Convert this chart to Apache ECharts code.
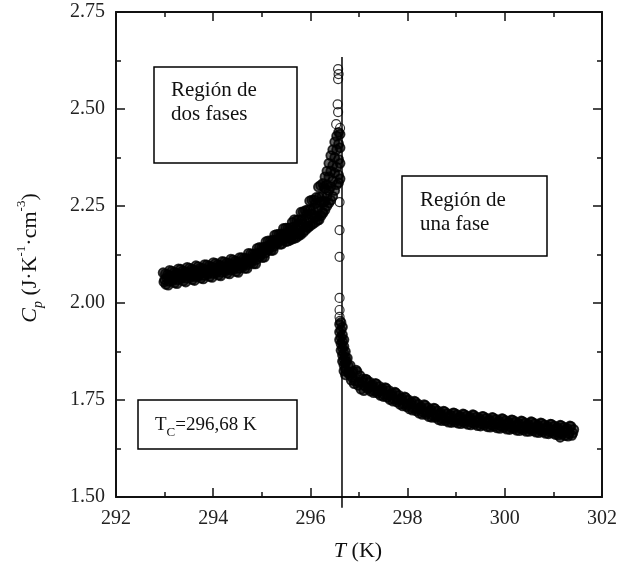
<!DOCTYPE html>
<html>
<head>
<meta charset="utf-8">
<script src="https://cdn.jsdelivr.net/npm/echarts@6/dist/echarts.min.js"></script>
<style>
html,body{margin:0;padding:0;background:#fff;}
#chart{width:627px;height:566px;}
</style>
</head>
<body>
<div id="chart"></div>
<script>
// ---- data (T in K, Cp in J K^-1 cm^-3) ----
const xTicks = [292, 294, 296, 298, 300, 302];
const yTicks = ['1.50', '1.75', '2.00', '2.25', '2.50', '2.75'];
const tcValue = 296.65;           // position of the vertical line
const tcLineCp = [2.634, 1.472];  // extent of the vertical line

const leftBranch = [
[292.97,2.078],[293.00,2.060],[293.03,2.048],[293.06,2.073],[293.09,2.056],[293.12,2.069],
[293.15,2.082],[293.18,2.064],[293.21,2.052],[293.24,2.077],[293.27,2.060],[293.30,2.074],
[293.33,2.087],[293.36,2.068],[293.39,2.057],[293.42,2.081],[293.45,2.064],[293.48,2.078],
[293.51,2.090],[293.54,2.072],[293.57,2.060],[293.60,2.085],[293.63,2.068],[293.66,2.081],
[293.69,2.094],[293.72,2.075],[293.75,2.064],[293.78,2.089],[293.81,2.071],[293.84,2.085],
[293.87,2.098],[293.90,2.080],[293.93,2.068],[293.96,2.093],[293.99,2.076],[294.02,2.089],
[294.05,2.102],[294.08,2.084],[294.11,2.072],[294.14,2.097],[294.17,2.079],[294.20,2.093],
[294.23,2.106],[294.26,2.088],[294.29,2.077],[294.32,2.102],[294.35,2.085],[294.38,2.098],
[294.41,2.111],[294.44,2.093],[294.47,2.081],[294.50,2.106],[294.53,2.089],[294.56,2.103],
[294.59,2.117],[294.62,2.099],[294.65,2.089],[294.68,2.115],[294.71,2.099],[294.74,2.113],
[294.77,2.127],[294.80,2.110],[294.83,2.101],[294.86,2.127],[294.89,2.112],[294.92,2.128],
[294.95,2.143],[294.98,2.126],[295.01,2.117],[295.04,2.144],[295.07,2.129],[295.10,2.145],
[295.13,2.160],[295.16,2.144],[295.19,2.135],[295.22,2.162],[295.25,2.146],[295.28,2.162],
[295.31,2.177],[295.34,2.161],[295.37,2.151],[295.40,2.178],[295.43,2.163],[295.46,2.178],
[295.49,2.193],[295.52,2.177],[295.55,2.167],[295.58,2.194],[295.61,2.179],[295.64,2.195],
[295.67,2.215],[295.70,2.191],[295.73,2.178],[295.76,2.215],[295.79,2.193],[295.82,2.215],
[295.85,2.235],[295.88,2.212],[295.91,2.196],[295.94,2.240],[295.97,2.215],[296.00,2.241],
[296.03,2.265],[296.06,2.240],[296.09,2.221],[296.12,2.272],[296.15,2.243],[296.18,2.273],
[296.21,2.303],[296.24,2.275],[296.27,2.261],[296.25,2.235],[296.28,2.300],
[296.18,2.215],[296.22,2.225],[296.26,2.232],
[296.30,2.325],[296.30,2.295],[296.30,2.262],[296.30,2.240],
[296.34,2.340],[296.34,2.305],[296.34,2.275],[296.34,2.250],
[296.38,2.360],[296.38,2.325],[296.38,2.290],[296.38,2.258],
[296.42,2.380],[296.42,2.340],[296.42,2.300],[296.42,2.265],
[296.46,2.395],[296.46,2.355],[296.46,2.315],[296.46,2.275],
[296.50,2.415],[296.50,2.375],[296.50,2.335],[296.50,2.290],
[296.54,2.430],[296.54,2.395],[296.54,2.350],[296.54,2.305],
[296.58,2.440],[296.58,2.410],[296.58,2.370],[296.58,2.330],[296.58,2.310],
[296.61,2.435],[296.61,2.400],[296.61,2.360],[296.61,2.320]
];

const leftBranchB = [
[292.985,2.054],[293.015,2.075],[293.045,2.065],[293.075,2.046],[293.105,2.084],[293.135,2.060],
[293.165,2.058],[293.195,2.079],[293.225,2.069],[293.255,2.050],[293.285,2.088],[293.315,2.065],
[293.345,2.063],[293.375,2.083],[293.405,2.074],[293.435,2.054],[293.465,2.092],[293.495,2.069],
[293.525,2.066],[293.555,2.087],[293.585,2.077],[293.615,2.058],[293.645,2.096],[293.675,2.072],
[293.705,2.070],[293.735,2.090],[293.765,2.081],[293.795,2.062],[293.825,2.099],[293.855,2.076],
[293.885,2.074],[293.915,2.095],[293.945,2.085],[293.975,2.066],[294.005,2.104],[294.035,2.080],
[294.065,2.078],[294.095,2.099],[294.125,2.089],[294.155,2.070],[294.185,2.107],[294.215,2.084],
[294.245,2.082],[294.275,2.103],[294.305,2.094],[294.335,2.075],[294.365,2.113],[294.395,2.089],
[294.425,2.087],[294.455,2.108],[294.485,2.098],[294.515,2.079],[294.545,2.117],[294.575,2.095],
[294.605,2.093],[294.635,2.115],[294.665,2.107],[294.695,2.089],[294.725,2.128],[294.755,2.105],
[294.785,2.104],[294.815,2.126],[294.845,2.119],[294.875,2.101],[294.905,2.141],[294.935,2.120],
[294.965,2.120],[294.995,2.142],[295.025,2.135],[295.055,2.118],[295.085,2.158],[295.115,2.137],
[295.145,2.137],[295.175,2.160],[295.205,2.153],[295.235,2.136],[295.265,2.175],[295.295,2.154],
[295.325,2.154],[295.355,2.177],[295.385,2.169],[295.415,2.152],[295.445,2.192],[295.475,2.170],
[295.505,2.170],[295.535,2.193],[295.565,2.185],[295.595,2.168],[295.625,2.208],[295.655,2.187],
[295.685,2.182],[295.715,2.213],[295.745,2.203],[295.775,2.178],[295.805,2.234],[295.835,2.204],
[295.865,2.203],[295.895,2.238],[295.925,2.227],[295.955,2.199],[295.985,2.263],[296.015,2.228],
[296.045,2.229],[296.075,2.266],[296.105,2.256],[296.135,2.223],[296.165,2.299],[296.195,2.259],
[296.225,2.261],[296.255,2.308]
];

// lower edge of the band approaching the transition
const leftBranchC = [
[295.50,2.158],[295.55,2.160],[295.60,2.163],[295.65,2.166],[295.70,2.168],[295.75,2.172],
[295.80,2.176],[295.85,2.182],[295.90,2.188],[295.95,2.194],[296.00,2.199],[296.05,2.204],
[296.10,2.208],[296.15,2.213]
];

const peakPoints = [
[296.57,2.603],[296.58,2.590],[296.57,2.577],[296.56,2.512],[296.57,2.492],
[296.53,2.461],[296.61,2.451],
[296.60,2.260],[296.60,2.188],[296.60,2.119],[296.60,2.013],[296.60,1.982],[296.60,1.964],[296.61,1.954]
];

const rightBranch = [
[296.60,1.945],[296.60,1.925],[296.60,1.905],
[296.63,1.950],[296.63,1.930],[296.63,1.912],[296.63,1.895],[296.63,1.878],
[296.66,1.938],[296.66,1.918],[296.66,1.900],[296.66,1.884],[296.66,1.866],[296.66,1.850],
[296.69,1.905],[296.69,1.888],[296.69,1.870],[296.69,1.855],[296.69,1.840],[296.69,1.825],
[296.72,1.875],[296.72,1.860],[296.72,1.845],[296.72,1.830],[296.72,1.815],
[296.74,1.850],[296.78,1.838],[296.82,1.815],[296.86,1.808],
[296.76,1.858],[296.80,1.822],[296.84,1.801],[296.88,1.824],[296.92,1.799],[296.96,1.823],
[297.00,1.795],[297.04,1.778],[297.08,1.804],[297.12,1.786],[297.16,1.802],[297.20,1.784],
[297.24,1.773],[297.28,1.789],[297.32,1.774],[297.36,1.791],[297.40,1.773],[297.44,1.762],
[297.48,1.779],[297.52,1.764],[297.56,1.780],[297.60,1.762],[297.64,1.751],[297.68,1.767],
[297.72,1.752],[297.76,1.768],[297.80,1.750],[297.84,1.739],[297.88,1.755],[297.92,1.740],
[297.96,1.756],[298.00,1.738],[298.04,1.727],[298.08,1.744],[298.12,1.729],[298.16,1.745],
[298.20,1.727],[298.24,1.716],[298.28,1.732],[298.32,1.719],[298.36,1.736],[298.40,1.718],
[298.44,1.707],[298.48,1.725],[298.52,1.710],[298.56,1.728],[298.60,1.710],[298.64,1.699],
[298.68,1.717],[298.72,1.702],[298.76,1.720],[298.80,1.703],[298.84,1.693],[298.88,1.711],
[298.92,1.698],[298.96,1.716],[299.00,1.699],[299.04,1.690],[299.08,1.708],[299.12,1.695],
[299.16,1.713],[299.20,1.697],[299.24,1.687],[299.28,1.706],[299.32,1.692],[299.36,1.711],
[299.40,1.694],[299.44,1.684],[299.48,1.702],[299.52,1.689],[299.56,1.707],[299.60,1.691],
[299.64,1.681],[299.68,1.699],[299.72,1.686],[299.76,1.704],[299.80,1.688],[299.84,1.678],
[299.88,1.696],[299.92,1.683],[299.96,1.701],[300.00,1.685],[300.04,1.675],[300.08,1.693],
[300.12,1.680],[300.16,1.698],[300.20,1.682],[300.24,1.672],[300.28,1.690],[300.32,1.677],
[300.36,1.695],[300.40,1.679],[300.44,1.669],[300.48,1.688],[300.52,1.675],[300.56,1.693],
[300.60,1.677],[300.64,1.667],[300.68,1.685],[300.72,1.672],[300.76,1.690],[300.80,1.674],
[300.84,1.664],[300.88,1.682],[300.92,1.669],[300.96,1.687],[301.00,1.671],[301.04,1.661],
[301.08,1.679],[301.12,1.666],[301.16,1.684],[301.20,1.668],[301.24,1.658],[301.28,1.677],
[301.32,1.663],[301.36,1.682],[301.40,1.665],[301.14,1.654],[301.42,1.674]
];

const rightBranchB = [
[296.78,1.819],[296.82,1.839],[296.86,1.820],[296.90,1.792],[296.94,1.827],[296.98,1.788],
[297.02,1.813],[297.06,1.798],[297.10,1.774],[297.14,1.804],[297.18,1.779],[297.22,1.796],
[297.26,1.785],[297.30,1.769],[297.34,1.793],[297.38,1.768],[297.42,1.785],[297.46,1.775],
[297.50,1.759],[297.54,1.782],[297.58,1.757],[297.62,1.774],[297.66,1.763],[297.70,1.747],
[297.74,1.770],[297.78,1.745],[297.82,1.762],[297.86,1.751],[297.90,1.735],[297.94,1.758],
[297.98,1.733],[298.02,1.750],[298.06,1.740],[298.10,1.724],[298.14,1.747],[298.18,1.722],
[298.22,1.739],[298.26,1.728],[298.30,1.713],[298.34,1.738],[298.38,1.713],[298.42,1.730],
[298.46,1.720],[298.50,1.705],[298.54,1.729],[298.58,1.705],[298.62,1.722],[298.66,1.712],
[298.70,1.697],[298.74,1.721],[298.78,1.697],[298.82,1.715],[298.86,1.706],[298.90,1.692],
[298.94,1.717],[298.98,1.693],[299.02,1.712],[299.06,1.703],[299.10,1.689],[299.14,1.714],
[299.18,1.691],[299.22,1.709],[299.26,1.701],[299.30,1.686],[299.34,1.712],[299.38,1.688],
[299.42,1.706],[299.46,1.697],[299.50,1.683],[299.54,1.708],[299.58,1.685],[299.62,1.703],
[299.66,1.694],[299.70,1.680],[299.74,1.705],[299.78,1.682],[299.82,1.700],[299.86,1.691],
[299.90,1.677],[299.94,1.702],[299.98,1.679],[300.02,1.697],[300.06,1.688],[300.10,1.674],
[300.14,1.699],[300.18,1.676],[300.22,1.694],[300.26,1.685],[300.30,1.671],[300.34,1.696],
[300.38,1.673],[300.42,1.691],[300.46,1.683],[300.50,1.669],[300.54,1.694],[300.58,1.671],
[300.62,1.689],[300.66,1.680],[300.70,1.666],[300.74,1.691],[300.78,1.668],[300.82,1.686],
[300.86,1.677],[300.90,1.663],[300.94,1.688],[300.98,1.665],[301.02,1.683],[301.06,1.674],
[301.10,1.660],[301.14,1.685],[301.18,1.662],[301.22,1.680],[301.26,1.672],[301.30,1.657],
[301.34,1.683],[301.38,1.659]
];

// ---- chart ----
const FONT = 'Liberation Serif';
const INK = '#111';
const chart = echarts.init(document.getElementById('chart'), null, {renderer: 'canvas'});

function axisCommon(showLabel, isX) {
  return {
    type: 'value',
    min: isX ? 292 : 1.5,
    max: isX ? 302 : 2.75,
    interval: isX ? 2 : 0.25,
    axisLine: {show: true, onZero: false, lineStyle: {color: INK, width: 2}},
    axisTick: {show: true, inside: true, length: 9, lineStyle: {color: INK, width: 1.5}},
    minorTick: {show: true, splitNumber: 2, length: 5, lineStyle: {color: INK, width: 1.5}},
    splitLine: {show: false},
    axisLabel: {
      show: showLabel,
      fontFamily: FONT, fontSize: 20, color: '#222',
      margin: isX ? 12 : 11,
      formatter: function (v) {
        if (isX) { const i = xTicks.indexOf(Math.round(v)); return i >= 0 ? String(xTicks[i]) : ''; }
        const s = v.toFixed(2); return yTicks.indexOf(s) >= 0 ? s : '';
      }
    }
  };
}

const bandStyle = {color: 'rgba(0,0,0,0.75)', borderColor: '#000', borderWidth: 1.8};
const circleStyle = {color: 'rgba(0,0,0,0)', borderColor: '#000', borderWidth: 1.2};
function scatter(data, style, size) {
  return {type: 'scatter', symbol: 'circle', symbolSize: size, data: data, itemStyle: style, silent: true, progressive: 0};
}

const option = {
  backgroundColor: '#fff',
  animation: false,
  grid: {left: 116, top: 12, right: 25, bottom: 69, containLabel: false},
  xAxis: [
    Object.assign(axisCommon(true, true), {position: 'bottom'}),
    Object.assign(axisCommon(false, true), {position: 'top'})
  ],
  yAxis: [
    Object.assign(axisCommon(true, false), {position: 'left'}),
    Object.assign(axisCommon(false, false), {position: 'right'})
  ],
  series: [
    scatter(leftBranch, bandStyle, 9),
    scatter(leftBranchB, bandStyle, 9),
    scatter(leftBranchC, bandStyle, 9),
    scatter(rightBranch, bandStyle, 9),
    scatter(rightBranchB, bandStyle, 9),
    scatter(peakPoints, circleStyle, 9),
    {type: 'line', data: [[tcValue, tcLineCp[0]], [tcValue, tcLineCp[1]]], symbol: 'none', clip: false,
     lineStyle: {color: '#000', width: 1.5}, silent: true, z: 5}
  ],
  graphic: [
    {type: 'rect', shape: {x: 154, y: 67, width: 143, height: 96}, style: {fill: 'none', stroke: '#000', lineWidth: 1.5}},
    {type: 'text', x: 171, y: 78, style: {text: 'Región de\ndos fases', font: '21px "Liberation Serif"', fill: '#111', lineHeight: 24}},
    {type: 'rect', shape: {x: 402, y: 176, width: 145, height: 80}, style: {fill: 'none', stroke: '#000', lineWidth: 1.5}},
    {type: 'text', x: 420, y: 188, style: {text: 'Región de\nuna fase', font: '21px "Liberation Serif"', fill: '#111', lineHeight: 24}},
    {type: 'rect', shape: {x: 138, y: 400, width: 159, height: 49}, style: {fill: 'none', stroke: '#000', lineWidth: 1.5}},
    {type: 'text', x: 155, y: 412, style: {
      text: 'T{sub|C}=296,68 K', font: '19px "Liberation Serif"', fill: '#111',
      rich: {sub: {fontSize: 13, fontFamily: FONT, fill: '#111', verticalAlign: 'bottom', lineHeight: 27}}
    }},
    {type: 'text', x: 358, y: 551, style: {
      text: '{i|T} (K)', font: '22px "Liberation Serif"', fill: '#111', align: 'center', verticalAlign: 'middle',
      rich: {i: {fontStyle: 'italic', fontSize: 22, fontFamily: FONT, fill: '#111'}}
    }},
    {type: 'text', x: 30, y: 258, rotation: Math.PI / 2, style: {
      text: '{i|C}{sub|p} (J·K{sup|-1}·cm{sup|-3})', font: '22px "Liberation Serif"', fill: '#111',
      align: 'center', verticalAlign: 'middle', lineHeight: 30,
      rich: {
        i: {fontStyle: 'italic', fontSize: 22, fontFamily: FONT, fill: '#111', lineHeight: 30},
        sub: {fontStyle: 'italic', fontSize: 14, fontFamily: FONT, fill: '#111', verticalAlign: 'bottom', lineHeight: 30},
        sup: {fontSize: 13, fontFamily: FONT, fill: '#111', verticalAlign: 'top', lineHeight: 30}
      }
    }}
  ]
};
chart.setOption(option);
</script>
</body>
</html>
